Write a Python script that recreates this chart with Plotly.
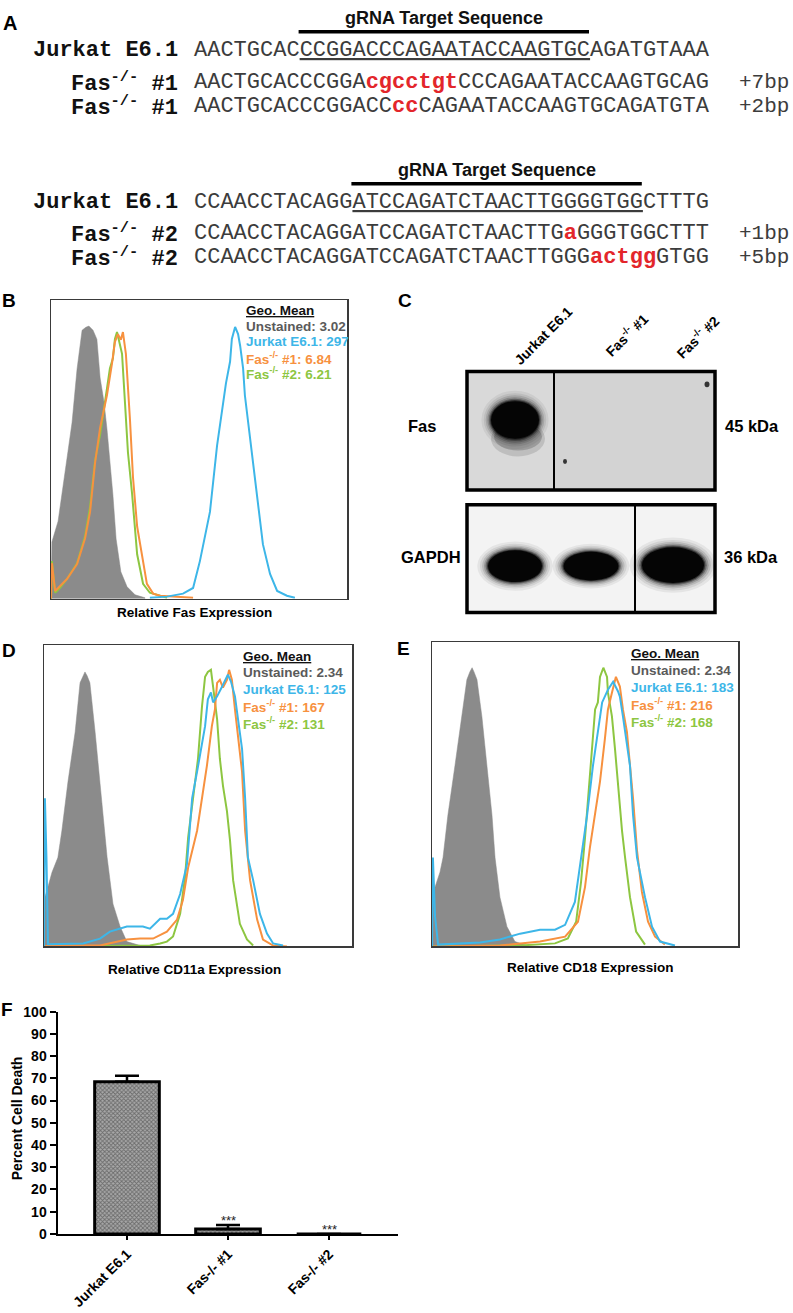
import plotly.graph_objects as go

W, H = 793, 1313


def fx(x):
    return x / W


def fy(y):
    return 1 - y / H


MONO = "Liberation Mono"
SANS = "Liberation Sans"
RED = "#e3262b"
GRAY_FILL = "#8b8b8b"
COL_UNST = "#5a5a5a"
COL_JUR = "#3db6e8"
COL_F1 = "#f7913f"
COL_F2 = "#8dc641"

# ---------------- Panel A: sequences ----------------
a_labels = ["Jurkat E6.1", "Fas<sup>-/-</sup> #1", "Fas<sup>-/-</sup> #1",
            "Jurkat E6.1", "Fas<sup>-/-</sup> #2", "Fas<sup>-/-</sup> #2"]
a_seq_head = ["AACTGCAC", "AACTGCACCCGGA", "AACTGCACCCGGACC",
              "CCAACCTACAGG", "CCAACCTACAGGATCCAGATCTAACTTG",
              "CCAACCTACAGGATCCAGATCTAACTTGGG"]
a_seq_mark = ["CCGGACCCAGAATACCAAGTGC", "cgcctgt", "cc",
              "ATCCAGATCTAACTTGGGGTGG", "a", "actgg"]
a_seq_tail = ["AGATGTAAA", "CCCAGAATACCAAGTGCAG", "CAGAATACCAAGTGCAGATGTA",
              "CTTTG", "GGGTGGCTTT", "GTGG"]
a_mark_kind = ["target", "insert", "insert", "target", "insert", "insert"]
a_bp = ["", "+7bp", "+2bp", "", "+1bp", "+5bp"]
a_header = "gRNA Target Sequence"

# ---------------- Panel B: Fas histograms (x, % of max) ----------------
b_unst_x = [0, 0.3, 2.4, 5.4, 7.1, 8.8, 10.5, 11.8, 12.8, 14.2, 15.5, 16.6, 17.9, 18.9, 19.9, 20.9, 22.0, 23.6, 25.7, 28.4, 31.8]
b_unst_y = [0, 19, 26, 46, 59, 77, 90, 91, 91.4, 90, 87, 74, 66, 57, 46, 35, 20, 9, 4, 1.3, 0.3]
b_jur_x = [33.4, 39.2, 44.6, 48.0, 50.3, 52.0, 53.7, 56.1, 57.8, 59.1, 60.5, 61.1, 62.2, 63.2, 63.9, 64.9, 65.5, 66.6, 68.2, 69.9, 71.6, 74.0, 76.4, 79.7, 82.4]
b_jur_y = [0.3, 0.7, 1.7, 3.6, 12.6, 20.9, 29.1, 51.3, 62.3, 72.2, 79.5, 87.1, 91.1, 88.7, 84.8, 77.2, 68.2, 58.9, 45.7, 30.8, 18.2, 8.3, 2.6, 1.0, 0.3]
b_f1_x = [0, 0.3, 1.4, 3.0, 5.4, 8.8, 11.5, 13.2, 14.9, 16.6, 18.9, 20.6, 21.6, 22.6, 23.6, 24.3, 25.3, 26.7, 27.7, 29.1, 30.1, 32.4, 34.5, 36.8, 48.0]
b_f1_y = [0, 11.9, 2.6, 4.3, 6.6, 11.6, 20.2, 29.1, 45.7, 57.3, 68.2, 78.8, 86.1, 88.7, 86.8, 89.4, 82.1, 59.6, 40.7, 24.2, 18.2, 5.0, 1.7, 1.0, 0.3]
b_f2_x = [0, 0.3, 1.4, 3.0, 5.4, 8.8, 11.5, 13.2, 14.9, 16.6, 17.6, 18.9, 19.9, 20.9, 21.6, 22.3, 23.0, 24.0, 25.0, 26.0, 27.4, 29.1, 31.1, 33.4, 39.2]
b_f2_y = [0, 12.6, 2.0, 3.6, 6.6, 11.9, 20.9, 30.8, 46.4, 55.0, 61.6, 70.5, 77.2, 80.5, 87.1, 89.4, 86.1, 82.1, 65.6, 49.0, 35.1, 14.9, 5.0, 2.0, 0.3]
b_geo = ["3.02", "297", "6.84", "6.21"]

# ---------------- Panel D: CD11a histograms ----------------
d_unst_x = [0, 0.3, 1.0, 2.6, 4.5, 5.8, 7.8, 10.1, 11.7, 12.7, 13.3, 14.0, 14.9, 16.6, 18.2, 19.8, 20.5, 22.4, 24.7, 26.9, 31.2, 34.4]
d_unst_y = [0, 16.4, 18.7, 24.6, 29.5, 38.4, 54.8, 71.1, 87.5, 89.8, 91.1, 89.8, 87.5, 71.1, 54.8, 38.4, 29.5, 14.1, 6.6, 1.6, 0.3, 0]
d_jur_x = [0, 0.3, 0.8, 1.3, 12.7, 18.2, 21.4, 26.9, 32.1, 34.4, 37.7, 39.9, 41.9, 44.2, 46.4, 48.1, 49.7, 51.3, 52.3, 53.2, 54.2, 54.9, 56.2, 57.8, 59.4, 59.7, 60.7, 62.0, 63.0, 64.3, 65.3, 66.2, 67.9, 70.1, 72.4, 74.4, 77.6]
d_jur_y = [0, 49.2, 29.5, 0.7, 1.0, 2.6, 4.9, 6.6, 6.6, 5.9, 9.2, 9.2, 10.8, 17.4, 27.2, 49.2, 58.0, 66.6, 73.1, 82.0, 84.3, 81.0, 83.0, 86.2, 89.2, 90.2, 87.9, 83.0, 75.4, 65.6, 49.2, 29.5, 22.0, 10.8, 4.3, 1.0, 0.3]
d_f1_x = [0, 1.9, 18.2, 26.9, 31.2, 35.4, 39.9, 43.2, 45.1, 46.8, 49.7, 51.3, 52.9, 54.5, 55.5, 56.2, 57.1, 58.1, 59.4, 60.1, 61.0, 62.0, 63.0, 64.3, 65.3, 66.9, 69.2, 71.1, 74.4, 78.9]
d_f1_y = [0, 0.3, 0.3, 2.3, 2.6, 2.6, 4.9, 8.9, 15.4, 26.2, 38.4, 49.2, 60.0, 73.1, 78.7, 87.5, 88.5, 85.9, 88.5, 91.8, 88.5, 78.7, 68.9, 58.0, 38.4, 22.0, 8.9, 2.3, 0.3, 0]
d_f2_x = [0, 34.4, 37.7, 39.9, 41.9, 44.2, 45.8, 46.8, 48.4, 50.0, 51.3, 52.3, 53.2, 54.2, 54.9, 56.2, 57.1, 58.1, 59.4, 60.4, 61.4, 63.6, 65.9, 67.9]
d_f2_y = [0, 0.3, 1.0, 1.6, 3.3, 10.8, 23.0, 36.1, 49.2, 62.3, 79.7, 89.5, 91.1, 91.8, 86.2, 75.4, 62.3, 53.4, 44.9, 35.1, 22.0, 7.5, 2.3, 0.3]
d_geo = ["2.34", "125", "167", "131"]

# ---------------- Panel E: CD18 histograms ----------------
e_unst_x = [0, 0.3, 1.0, 2.6, 3.6, 5.2, 7.5, 9.8, 11.4, 12.4, 13.1, 13.7, 14.7, 16.3, 18.0, 19.6, 20.6, 22.2, 24.5, 27.1, 32.0]
e_unst_y = [0, 16.2, 19.5, 24.4, 29.2, 43.2, 59.4, 75.6, 87.7, 90.3, 91.6, 90.3, 87.7, 75.6, 59.4, 43.2, 29.2, 16.2, 6.5, 1.6, 0]
e_jur_x = [0, 0.3, 1.0, 2.0, 15.7, 22.2, 28.8, 35.3, 40.2, 43.5, 46.7, 49.0, 50.7, 52.6, 54.2, 55.6, 57.5, 59.2, 60.8, 61.4, 62.4, 63.1, 64.7, 65.7, 67.0, 69.6, 71.9, 74.5, 79.4]
e_jur_y = [0, 29.2, 9.7, 0.6, 1.3, 2.3, 4.2, 5.5, 5.5, 7.1, 14.6, 31.5, 43.2, 59.4, 70.5, 80.2, 84.4, 87.0, 83.8, 82.1, 75.6, 70.5, 59.4, 43.2, 29.2, 16.2, 6.5, 1.6, 0.3]
e_f1_x = [0, 22.2, 35.3, 43.5, 47.7, 50.0, 51.6, 53.3, 54.9, 56.5, 57.5, 58.8, 60.1, 61.4, 62.4, 63.7, 64.7, 65.7, 67.0, 68.6, 70.6, 72.9, 76.1]
e_f1_y = [0, 0.3, 1.6, 3.2, 8.1, 19.5, 32.5, 43.2, 54.2, 68.2, 77.9, 83.4, 88.6, 85.4, 77.9, 70.5, 59.4, 48.7, 31.5, 17.9, 8.1, 3.2, 0.6]
e_f2_x = [0, 28.8, 40.2, 44.4, 47.1, 48.7, 50.0, 51.0, 52.3, 53.3, 54.2, 54.9, 56.0, 57.2, 57.5, 58.8, 59.8, 60.8, 62.1, 63.1, 64.7, 66.7, 69.6]
e_f2_y = [0, 0.3, 1.0, 2.6, 8.1, 21.1, 35.7, 48.7, 64.9, 77.9, 80.2, 88.6, 91.6, 88.6, 83.4, 75.6, 64.9, 51.9, 38.0, 29.2, 16.2, 4.9, 0.6]
e_geo = ["2.34", "183", "216", "168"]

geo_names = ["Unstained", "Jurkat E6.1", "Fas<sup>-/-</sup> #1", "Fas<sup>-/-</sup> #2"]
geo_colors = [COL_UNST, COL_JUR, COL_F1, COL_F2]

# ---------------- Panel F: cell death ----------------
f_cats = ["Jurkat E6.1", "Fas-/- #1", "Fas-/- #2"]
f_vals = [68.5, 2.2, 0]
f_errs = [2.6, 1.8, 0]
f_sig = ["", "***", "***"]

fig = go.Figure()

# histogram traces
panels = [
    ("x", "y", b_unst_x, b_unst_y, b_f2_x, b_f2_y, b_f1_x, b_f1_y, b_jur_x, b_jur_y),
    ("x2", "y2", d_unst_x, d_unst_y, d_f2_x, d_f2_y, d_f1_x, d_f1_y, d_jur_x, d_jur_y),
    ("x3", "y3", e_unst_x, e_unst_y, e_f2_x, e_f2_y, e_f1_x, e_f1_y, e_jur_x, e_jur_y),
]
for xa, ya, ux, uy, g2x, g2y, g1x, g1y, jx, jy in panels:
    fig.add_trace(go.Scatter(x=ux, y=uy, mode="lines", fill="tozeroy",
                             fillcolor=GRAY_FILL, line=dict(color=GRAY_FILL, width=0.5),
                             xaxis=xa, yaxis=ya, hoverinfo="skip"))
    fig.add_trace(go.Scatter(x=g2x, y=g2y, mode="lines", line=dict(color=COL_F2, width=2),
                             xaxis=xa, yaxis=ya, hoverinfo="skip"))
    fig.add_trace(go.Scatter(x=g1x, y=g1y, mode="lines", line=dict(color=COL_F1, width=2),
                             xaxis=xa, yaxis=ya, hoverinfo="skip"))
    fig.add_trace(go.Scatter(x=jx, y=jy, mode="lines", line=dict(color=COL_JUR, width=2),
                             xaxis=xa, yaxis=ya, hoverinfo="skip"))

# bar chart
fig.add_trace(go.Bar(
    x=f_cats, y=f_vals, width=0.64, xaxis="x4", yaxis="y4",
    marker=dict(color="#8a8a8a", line=dict(color="black", width=3),
                pattern=dict(shape="x", size=3, solidity=0.5, fgcolor="#2e2e2e", bgcolor="#a8a8a8")),
    error_y=dict(type="data", array=f_errs, arrayminus=[0] * len(f_errs), symmetric=False,
                 color="black", thickness=2.5, width=12, visible=True),
))

hist_axis = dict(range=[0, 100], showline=True, linecolor="#3a3a3a", linewidth=1.5, mirror=True,
                 showticklabels=False, ticks="", showgrid=False, zeroline=False)


def hx(x0, x1, anchor):
    d = dict(hist_axis)
    d.update(domain=[fx(x0), fx(x1)], anchor=anchor)
    return d


def hy(y0, y1, anchor):
    d = dict(hist_axis)
    d.update(domain=[fy(y1), fy(y0)], anchor=anchor)
    return d


bold14 = dict(family=SANS, size=14, color="black", weight="bold")

fig.update_layout(
    width=W, height=H, margin=dict(l=0, r=0, t=0, b=0),
    paper_bgcolor="white", plot_bgcolor="white", showlegend=False,
    xaxis=hx(51, 347, "y"), yaxis=hy(296, 598, "x"),
    xaxis2=hx(44, 352, "y2"), yaxis2=hy(645, 950, "x2"),
    xaxis3=hx(432, 738, "y3"), yaxis3=hy(642, 950, "x3"),
    xaxis4=dict(domain=[fx(58), fx(398)], anchor="y4", type="category",
                categoryorder="array", categoryarray=f_cats,
                range=[-0.683, 2.683], showline=True, linecolor="black", linewidth=2.5,
                ticks="outside", ticklen=4, tickwidth=2, tickcolor="black",
                tickangle=-45, tickfont=bold14, showgrid=False, zeroline=False),
    yaxis4=dict(domain=[fy(1241), fy(1016)], anchor="x4", range=[0, 100], dtick=10, tick0=0,
                showline=True, linecolor="black", linewidth=2.5,
                ticks="outside", ticklen=6, tickwidth=2, tickcolor="black",
                tickfont=bold14, showgrid=False, zeroline=False),
)

ann = []
shapes = []


def text(t, x, y, size, color="black", family=SANS, xanchor="center", yanchor="middle",
         angle=0, bold=True):
    ann.append(dict(text=t, x=fx(x), y=fy(y), xref="paper", yref="paper", showarrow=False,
                    xanchor=xanchor, yanchor=yanchor, textangle=angle, borderpad=0,
                    font=dict(family=family, size=size, color=color,
                              weight="bold" if bold else "normal")))


# ---- Panel A ----
SEQ_X = 193
CW = 13.2
ROW_Y = [43, 75, 100, 197, 228, 253]
text("A", 2, 15, 20, xanchor="left")
for i in range(len(a_labels)):
    y = ROW_Y[i]
    text("<b>" + a_labels[i] + "</b>", 179, y, 22, color="#111", family=MONO, xanchor="right")
    if a_mark_kind[i] == "target":
        mid = "<u>" + a_seq_mark[i] + "</u>"
        x0 = SEQ_X + len(a_seq_head[i]) * CW
        x1 = x0 + len(a_seq_mark[i]) * CW
        shapes.append(dict(type="line", xref="paper", yref="paper", x0=fx(x0), x1=fx(x1),
                           y0=fy(y - 19), y1=fy(y - 19), line=dict(color="black", width=3.5)))
        text(a_header, (x0 + x1) / 2, y - 33, 18, color="#111")
    else:
        mid = "<span style='color:%s'><b>%s</b></span>" % (RED, a_seq_mark[i])
    text(a_seq_head[i] + mid + a_seq_tail[i], SEQ_X, y, 22, color="#3c3c3c", family=MONO,
         xanchor="left", bold=False)
    if a_bp[i]:
        text(a_bp[i], 790, y, 21, color="#3c3c3c", family=MONO, xanchor="right", bold=False)

# ---- Panel labels ----
text("B", 1, 296, 19, xanchor="left")
text("C", 397, 296, 19, xanchor="left")
text("D", 1, 650, 19, xanchor="left")
text("E", 396, 648, 19, xanchor="left")
text("F", 0, 1014, 19, xanchor="left")


# ---- Geo. Mean blocks ----
def geo_block(x, ys, vals):
    text("<u>Geo. Mean</u>", x, ys[0], 13.5, color="#111", xanchor="left")
    for k in range(4):
        text(geo_names[k] + ": " + vals[k], x, ys[k + 1], 13.5, color=geo_colors[k], xanchor="left")


geo_block(245, [306, 322, 338, 354, 370], b_geo)
geo_block(242, [657, 673, 690, 707, 724], d_geo)
geo_block(630, [653, 671, 688, 705, 722], e_geo)

text("Relative Fas Expression", 194, 612, 13.5)
text("Relative CD11a Expression", 194, 973, 13.5)
text("Relative CD18 Expression", 590, 971, 13.5)

# ---- Panel C: western blot ----
text("Jurkat E6.1", 543, 332, 14, angle=-45)
text("Fas<sup>-/-</sup> #1", 626, 331, 14, angle=-45)
text("Fas<sup>-/-</sup> #2", 697, 333, 14, angle=-45)
text("Fas", 422, 423, 16.5)
text("45 kDa", 752, 423, 16.5)
text("GAPDH", 431, 556, 16.5)
text("36 kDa", 751, 556, 16.5)


def rect(x0, y0, x1, y1, fill=None, line=None, lw=0):
    shapes.append(dict(type="rect", xref="paper", yref="paper", x0=fx(x0), x1=fx(x1),
                       y0=fy(y1), y1=fy(y0), fillcolor=fill if fill else "rgba(0,0,0,0)",
                       line=dict(color=line if line else "rgba(0,0,0,0)", width=lw)))


def ellipse(cx, cy, w, h, color="black", opacity=1.0):
    shapes.append(dict(type="circle", xref="paper", yref="paper",
                       x0=fx(cx - w / 2), x1=fx(cx + w / 2), y0=fy(cy + h / 2), y1=fy(cy - h / 2),
                       fillcolor=color, opacity=opacity, line=dict(width=0)))


def band(cx, cy, w, h):
    for s, o in [(1.4, 0.06), (1.3, 0.08), (1.22, 0.12), (1.15, 0.18), (1.09, 0.3), (1.04, 0.5)]:
        ellipse(cx, cy, w * s, h * (1 + (s - 1) * 1.4), "#000", o)
    ellipse(cx, cy, w, h, "#050505", 1.0)


# Fas blot
rect(467, 368, 715, 488, fill="#d3d3d3")
rect(467, 368, 554, 488, fill="#d9d9d9")
ellipse(518, 436, 54, 36, "#000", 0.12)
ellipse(518, 434, 48, 28, "#000", 0.18)
band(515, 417, 48, 38)
ellipse(565, 459, 4, 5, "#222", 0.9)
ellipse(707, 381, 5, 6, "#222", 0.9)
rect(467, 368, 715, 488, line="black", lw=3.5)
shapes.append(dict(type="line", xref="paper", yref="paper", x0=fx(554), x1=fx(554),
                   y0=fy(488), y1=fy(368), line=dict(color="black", width=2)))
# GAPDH blot
rect(467, 503, 715, 612, fill="#f3f3f3")
band(515, 565, 54, 32)
band(591, 565, 55, 29)
band(673, 564, 62, 36)
rect(467, 503, 715, 612, line="black", lw=3.5)
shapes.append(dict(type="line", xref="paper", yref="paper", x0=fx(635), x1=fx(635),
                   y0=fy(612), y1=fy(503), line=dict(color="black", width=2)))

# ---- Panel F extras ----
text("Percent Cell Death", 17, 1124, 14, angle=-90)
for c, v, e, s in zip(f_cats, f_vals, f_errs, f_sig):
    if s:
        ann.append(dict(text=s, x=c, y=v + e, xref="x4", yref="y4", showarrow=False,
                        yanchor="bottom", yshift=-4, borderpad=0,
                        font=dict(family=SANS, size=13, color="#222")))

fig.update_layout(annotations=ann, shapes=shapes)
fig.write_html("out.html", config={"displayModeBar": False, "staticPlot": True},
               post_script="document.body.style.margin='0px';")
